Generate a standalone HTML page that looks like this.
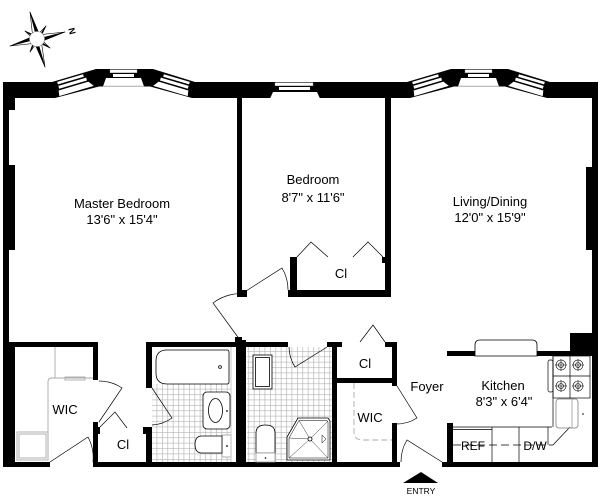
<!DOCTYPE html>
<html><head><meta charset="utf-8"><style>
html,body{margin:0;padding:0;background:#fff;}
svg{display:block;}
text{font-family:"Liberation Sans",Arial,sans-serif;fill:#000;}
</style></head><body>
<svg width="600" height="500" viewBox="0 0 600 500" xmlns="http://www.w3.org/2000/svg">
<defs>
<pattern id="tile" width="5.4" height="5.4" patternUnits="userSpaceOnUse"><path d="M0,0.3H5.4M0.3,0V5.4" stroke="#b3b3b3" stroke-width="0.7" fill="none"/></pattern>
<g id="slant">
  <g transform="translate(52,82) rotate(-16.46)">
    <rect x="5" y="1.4" width="27" height="2.6" fill="#fff"/>
    <rect x="5" y="5.5" width="29" height="3" fill="#fff"/>
    <polygon points="4,10 35,10 39,15.6 3,15.6" fill="#fff"/>
  </g>
</g>
<g id="bay">
  <polygon points="52,82 96,69 153,69 195,82 195,98 192,98 150,86.5 99,86.5 55,98 52,98" fill="#000"/>
  <use href="#slant"/>
  <g transform="translate(247,0) scale(-1,1)"><use href="#slant"/></g>
  <rect x="110" y="69.6" width="27" height="3.2" fill="#fff" stroke="#999" stroke-width="0.4"/>
  <rect x="113" y="74" width="21" height="3" fill="#fff"/>
  <polygon points="106,78 141,78 144,86.5 103,86.5" fill="#fff"/>
  <line x1="103" y1="86.3" x2="144" y2="86.3" stroke="#aaa" stroke-width="1"/>
</g>
</defs>

<!-- compass -->
<g stroke="#000" stroke-width="0.6" stroke-linejoin="round">
  <polygon points="37,39 40.9,38 30,12" fill="#000"/><polygon points="37,39 33.1,40 30,12" fill="#fff"/>
  <polygon points="37,39 38,42.9 65,32" fill="#000"/><polygon points="37,39 36,35.1 65,32" fill="#fff"/>
  <polygon points="37,39 33.2,40.1 45,67" fill="#000"/><polygon points="37,39 40.8,37.9 45,67" fill="#fff"/>
  <polygon points="37,39 36,35.1 10,46" fill="#000"/><polygon points="37,39 38,42.9 10,46" fill="#fff"/>
  <polygon points="37,39 38.4,36.9 25,31" fill="#000"/><polygon points="37,39 35.6,41.1 25,31" fill="#fff"/>
  <polygon points="37,39 39.1,40.4 46,26" fill="#000"/><polygon points="37,39 34.9,37.6 46,26" fill="#fff"/>
  <polygon points="37,39 34.8,37.8 30,52" fill="#000"/><polygon points="37,39 39.2,40.2 30,52" fill="#fff"/>
  <polygon points="37,39 35.6,41.1 50,48" fill="#000"/><polygon points="37,39 38.4,36.9 50,48" fill="#fff"/>
  <circle cx="37" cy="39" r="7.5" fill="#fff" stroke="#999"/>
</g>
<text transform="translate(72,31) rotate(76)" font-size="9" font-weight="bold" text-anchor="middle" dominant-baseline="central">N</text>

<!-- top wall -->
<rect x="3" y="82" width="49" height="16" fill="#000"/>
<use href="#bay"/>
<use href="#bay" transform="translate(355,0)"/>
<rect x="195" y="82" width="212" height="16" fill="#000"/>
<rect x="550" y="82" width="48" height="16" fill="#000"/>
<!-- small window -->
<rect x="275" y="82.6" width="38" height="3.2" fill="#fff" stroke="#999" stroke-width="0.4"/>
<rect x="279" y="87" width="31" height="3" fill="#fff"/>
<polygon points="273,92 317,92 320,98.5 270,98.5" fill="#fff"/>

<!-- walls -->
<g fill="#000">
  <rect x="3" y="82" width="6" height="385"/>
  <rect x="9" y="98" width="6" height="12"/>
  <rect x="9" y="165" width="6" height="85"/>
  <rect x="4" y="342" width="11" height="125"/>
  <rect x="592" y="82" width="6" height="385"/>
  <rect x="586" y="167" width="6" height="83"/>
  <rect x="570" y="333" width="22" height="23"/>
  <rect x="237" y="98" width="5" height="199"/>
  <rect x="242" y="290" width="5" height="7"/>
  <rect x="385" y="98" width="6" height="199"/>
  <rect x="288" y="290" width="103" height="7"/>
  <rect x="290" y="257" width="7" height="40"/>
  <rect x="382" y="257" width="5" height="6"/>
  <rect x="4" y="342" width="94" height="5"/>
  <rect x="93" y="342" width="5" height="38"/>
  <rect x="93" y="422" width="5" height="45"/>
  <rect x="95" y="427" width="5" height="7"/>
  <rect x="146" y="342" width="96" height="5"/>
  <rect x="146" y="342" width="6" height="46"/>
  <rect x="146" y="427" width="6" height="40"/>
  <rect x="143" y="427" width="3" height="7"/>
  <rect x="236" y="340" width="10" height="127"/>
  <rect x="235" y="337" width="7" height="5"/>
  <rect x="237" y="342" width="51" height="5"/>
  <rect x="327" y="342" width="15" height="5"/>
  <rect x="332" y="342" width="5" height="125"/>
  <rect x="385" y="342" width="12" height="5"/>
  <rect x="392" y="342" width="5" height="44"/>
  <rect x="392" y="423" width="5" height="44"/>
  <rect x="337" y="378" width="60" height="5"/>
  <rect x="4" y="462" width="46" height="5"/>
  <rect x="93" y="462" width="307" height="5"/>
  <rect x="442" y="462" width="156" height="5"/>
  <rect x="447" y="351" width="145" height="5"/>
  <rect x="447" y="423" width="6" height="44"/>
</g>
<!-- kitchen window -->
<path d="M475,356 V345 Q475,340 480,340 H532 Q537,340 537,345 V356 Z" fill="#fff" stroke="#000" stroke-width="0.8"/>

<!-- tiles -->
<rect x="152" y="384" width="79" height="78" fill="url(#tile)"/>
<rect x="247" y="347" width="85" height="115" fill="url(#tile)"/>

<!-- doors -->
<g fill="none" stroke="#000" stroke-width="0.7">
  <path d="M240,340 L213,303 A46,46 0 0 1 247,294"/>
  <path d="M246,291 L282,268 A42,42 0 0 1 288,290"/>
  <path d="M152,388 L172,418 A37,37 0 0 1 152,425"/>
  <path d="M327,347 L295,367 A38,38 0 0 1 289,347"/>
  <path d="M397,386 L417,418 A38,38 0 0 1 397,424"/>
  <path d="M442,462 L407,440 A41,41 0 0 0 401,462"/>
  <path d="M99,422 L122,388 A41,41 0 0 0 99,381"/>
  <path d="M50,462 L88,437 A44,44 0 0 1 93,462"/>
  <polyline points="297,257 311,242 328,257"/>
  <polyline points="353,257 368,242 383,257"/>
  <polyline points="360,342 373,325 385,342"/>
  <polyline points="100,427 115,412 127,428"/>
</g>

<!-- WIC left shelves -->
<g fill="none" stroke="#aaa" stroke-width="0.9">
  <line x1="55" y1="347" x2="55" y2="378"/>
  <path d="M48,460 V382 Q48,378 52,378 H93"/>
  <rect x="65" y="377" width="20" height="3"/>
  <rect x="17" y="432" width="31" height="28"/>
  <rect x="19" y="434" width="27" height="24"/>
</g>
<!-- WIC 2 shelf -->
<path d="M354,383 V432 Q354,440 363,440 H392" fill="none" stroke="#aaa" stroke-width="0.9" stroke-dasharray="6,3"/>

<!-- bath1 fixtures -->
<g stroke="#000" stroke-width="0.8" fill="#fff">
  <path d="M167,350 H227 Q229,350 229,352 V382 Q229,384 227,384 H167 Q156,384 156,373 V361 Q156,350 167,350 Z"/>
  <circle cx="220" cy="367" r="1.4"/>
  <rect x="203" y="392" width="27" height="37" rx="4"/>
  <ellipse cx="215.5" cy="410.5" rx="7" ry="12"/>
  <rect x="222" y="435" width="9" height="22" stroke="#999"/>
  <path d="M222,436 H202 Q195,436 195,444.5 Q195,453 202,453 H222 Z"/>
</g>
<circle cx="227" cy="411" r="0.9" fill="#000"/>
<circle cx="227" cy="446" r="0.9" fill="#000"/>
<line x1="231" y1="347" x2="231" y2="462" stroke="#bbb" stroke-width="0.8"/>

<!-- bath2 fixtures -->
<g stroke="#000" stroke-width="0.8" fill="#fff">
  <rect x="253" y="355" width="19" height="34"/>
  <rect x="255.5" y="357.5" width="14" height="29" fill="none"/>
  <path d="M256,453 V433 Q256,425 265.5,425 Q275,425 275,433 V453 Z"/>
  <rect x="256" y="453" width="19" height="9" stroke="#999"/>
  <polygon points="298,418 328,418 330,421 330,460 287,460 287,437"/>
  <polygon points="299,420.5 327,420.5 328,422 328,458 289,458 289,438" fill="none" stroke-width="0.5"/>
  <path d="M310,439 L289,438 M310,439 L299,420.5 M310,439 L328,421 M310,439 L328,458 M310,439 L289,458" fill="none" stroke-width="0.4"/>
  <circle cx="310" cy="439" r="2"/>
  <polygon points="322,435 326,439 322,443" stroke-width="0.5"/>
</g>
<circle cx="265.5" cy="458" r="0.8" fill="#000"/>

<!-- kitchen fixtures -->
<g fill="none" stroke="#000" stroke-width="0.7">
  <line x1="453" y1="427" x2="552" y2="427"/>
  <line x1="453" y1="429.5" x2="492" y2="429.5"/>
  <line x1="492" y1="427" x2="492" y2="462"/>
  <line x1="519" y1="427" x2="519" y2="462"/>
  <line x1="548" y1="427" x2="548" y2="445"/>
  <line x1="453" y1="445" x2="553" y2="445" stroke-dasharray="8,4"/>
  <line x1="553" y1="445" x2="570" y2="427"/>
  <line x1="553" y1="356" x2="553" y2="427"/>
  <rect x="553" y="356" width="37" height="42"/>
  <line x1="570" y1="356" x2="570" y2="398"/>
  <line x1="553" y1="376" x2="590" y2="376"/>
  <rect x="548" y="360" width="5" height="32" rx="2"/>
  <g stroke-width="0.6">
    <circle cx="561" cy="365" r="5"/><circle cx="578" cy="365" r="5"/>
    <circle cx="561" cy="386" r="5"/><circle cx="578" cy="386" r="5"/>
    <circle cx="561" cy="365" r="2.5"/><circle cx="578" cy="365" r="2.5"/>
    <circle cx="561" cy="386" r="2.5"/><circle cx="578" cy="386" r="2.5"/>
    <path d="M555,365H567M561,359V371M572,365H584M578,359V371M555,386H567M561,380V392M572,386H584M578,380V392"/>
  </g>
  <rect x="556" y="399" width="22" height="29" rx="3" stroke="#999" stroke-width="1"/>
  <line x1="572" y1="399" x2="572" y2="428" stroke="#999" stroke-width="0.8"/>
</g>
<circle cx="583" cy="414" r="0.8" fill="#000"/>

<!-- entry -->
<polygon points="403,483 438,483 421,472" fill="#000"/>
<text x="421" y="494" font-size="8.5" text-anchor="middle">ENTRY</text>

<!-- labels -->
<g font-size="13" text-anchor="middle">
  <text x="122" y="208">Master Bedroom</text>
  <text x="122" y="224">13'6" x 15'4"</text>
  <text x="313" y="184">Bedroom</text>
  <text x="313" y="202">8'7" x 11'6"</text>
  <text x="490" y="206">Living/Dining</text>
  <text x="490" y="222">12'0" x 15'9"</text>
  <text x="341" y="278">Cl</text>
  <text x="65" y="414">WIC</text>
  <text x="123" y="449">Cl</text>
  <text x="365" y="368">Cl</text>
  <text x="427" y="391">Foyer</text>
  <text x="370" y="422">WIC</text>
  <text x="503" y="390">Kitchen</text>
  <text x="504" y="406">8'3" x 6'4"</text>
  <text x="473" y="450" font-size="12">REF</text>
  <text x="535" y="450" font-size="12">D/W</text>
</g>
</svg>
</body></html>
